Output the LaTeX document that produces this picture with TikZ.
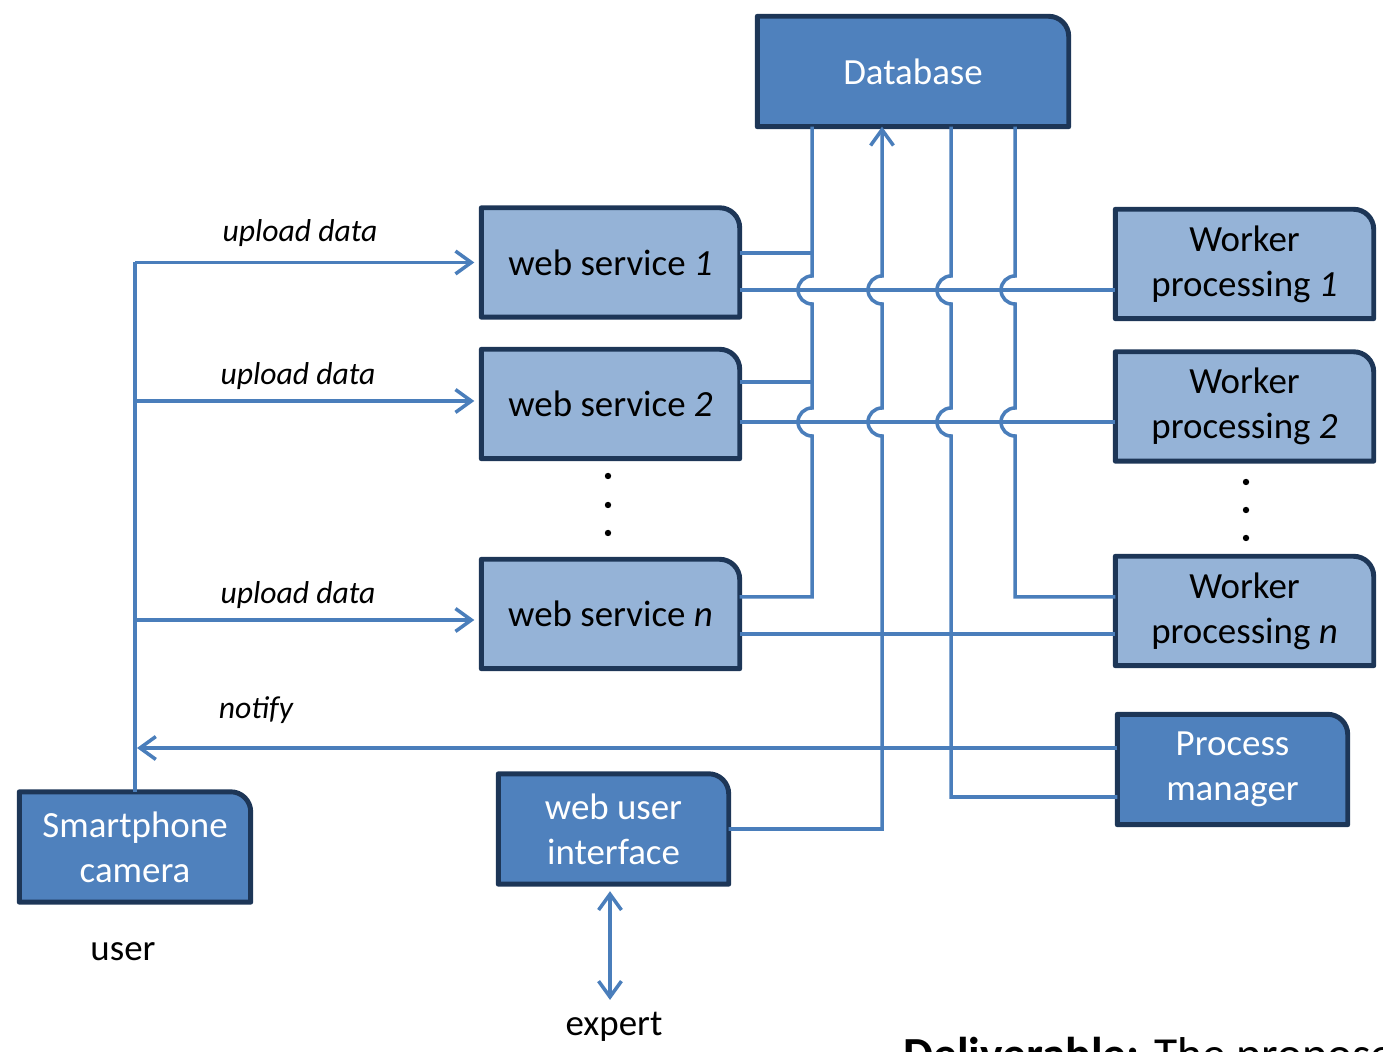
\documentclass[tikz,border=0pt]{standalone}
\usepackage{fontspec}
\setmainfont{Carlito}
\usetikzlibrary{arrows.meta, positioning, backgrounds}

\definecolor{boxlight}{HTML}{95B3D7}
\definecolor{boxdark}{HTML}{4F81BD}
\definecolor{boxedge}{HTML}{1D3657}
\definecolor{wire}{HTML}{4A7EBB}

\tikzset{
  blk/.style={inner sep=0pt, align=center, minimum width=2.57cm, minimum height=1.08cm,
    font=\fontsize{10.5}{12.8}\selectfont},
  lightblk/.style={blk, text=black},
  darkblk/.style={blk, text=white, minimum width=2.29cm, minimum height=1.09cm},
  frame/.style={draw=boxedge, line width=1.4pt, line join=round},
  link/.style={draw=wire, line width=1pt},
  lbl/.style={font=\fontsize{9}{11}\selectfont\itshape},
  plain/.style={font=\fontsize{10.5}{12.8}\selectfont},
}

% bridge over the two worker lines while going down a bus
\newcommand{\hopsdown}[1]{-- ([yshift=1.4mm]#1 |- l1) arc[start angle=90, end angle=270, radius=1.4mm]
  -- ([yshift=1.4mm]#1 |- l2) arc[start angle=90, end angle=270, radius=1.4mm]}

\begin{document}
\begin{tikzpicture}[>={Straight Barb[length=4.5pt,width=6.5pt]}]
  \useasboundingbox (0,0) rectangle (13.83,-10.52);

  % ---- blocks ----
  \node[darkblk, minimum width=3.10cm] (db) at (9.13,-0.715) {Database};
  \node[lightblk] (ws1) at (6.105,-2.625) {web service \textit{1}};
  \node[lightblk] (ws2) at (6.105,-4.04) {web service \textit{2}};
  \node[lightblk] (wsn) at (6.105,-6.14) {web service \textit{n}};
  \node[lightblk] (w1) at (12.445,-2.64) {Worker\\processing \textit{1}};
  \node[lightblk] (w2) at (12.445,-4.065) {Worker\\processing \textit{2}};
  \node[lightblk] (wn) at (12.445,-6.11) {Worker\\processing \textit{n}};
  \node[darkblk] (pm) at (12.325,-7.695) {Process\\manager};
  \node[darkblk, minimum width=2.30cm] (sp) at (1.35,-8.47) {Smartphone\\camera};
  \node[darkblk] (wui) at (6.135,-8.29) {web user\\interface};

  \node[plain] (user) at (1.23,-9.52) {user};
  \node[plain] (expert) at (6.14,-10.27) {expert};

  % block outlines, only the top right corner is rounded
  \begin{scope}[on background layer]
    \foreach \n/\c in {db/boxdark, ws1/boxlight, ws2/boxlight, wsn/boxlight, w1/boxlight,
                       w2/boxlight, wn/boxlight, pm/boxdark, sp/boxdark, wui/boxdark}
      \draw[frame, fill=\c] (\n.south west) -- (\n.north west) -- ([xshift=-2mm]\n.north east)
        arc[start angle=90, end angle=0, radius=2mm] -- (\n.south east) -- cycle;
  \end{scope}

  % ---- levels and bus positions ----
  \coordinate (l1) at ([yshift=-2.75mm]ws1.east);
  \coordinate (l2) at ([yshift=-1.8mm]ws2.east);
  \coordinate (ln) at ([yshift=-2mm]wsn.east);
  \coordinate (s1) at ([yshift=0.95mm]ws1.east);
  \coordinate (s2) at ([yshift=2.2mm]ws2.east);
  \coordinate (s3) at ([yshift=1.7mm]wsn.east);
  \coordinate (wnup) at ([yshift=1.4mm]wn.west);
  \coordinate (pmlow) at ([yshift=-2.75mm]pm.west);
  \coordinate (pmup) at ([yshift=2.15mm]pm.west);
  \coordinate (busA) at (8.12,0);
  \coordinate (busB) at (8.82,0);
  \coordinate (busC) at (9.51,0);
  \coordinate (busD) at (10.15,0);

  % ---- web services to workers ----
  \draw[link] (l1) -- (l1 -| w1.west);
  \draw[link] (l2) -- (l2 -| w2.west);
  \draw[link] (ln) -- (ln -| wn.west);

  % ---- database buses ----
  \draw[link] (busA |- db.south) \hopsdown{busA} -- (busA |- s3) -- (s3);
  \draw[link] (s1) -- (s1 -| busA);
  \draw[link] (s2) -- (s2 -| busA);
  \draw[link, <-] (busB |- db.south) \hopsdown{busB} -- (busB |- wui.east) -- (wui.east);
  \draw[link] (busC |- db.south) \hopsdown{busC} -- (busC |- pmlow) -- (pmlow);
  \draw[link] (busD |- db.south) \hopsdown{busD} -- (busD |- wnup) -- (wnup);

  % ---- user side ----
  \draw[link] (sp.north) -- (sp.north |- ws1.west);
  \draw[link, ->, shorten >=0.7mm] (sp.north |- ws1.west) -- (ws1.west);
  \draw[link, ->, shorten >=0.7mm] ([yshift=0.3mm]sp.north |- ws2.west) -- ([yshift=0.3mm]ws2.west);
  \draw[link, ->, shorten >=0.7mm] ([yshift=-0.6mm]sp.north |- wsn.west) -- ([yshift=-0.6mm]wsn.west);
  \draw[link, ->, shorten >=0.2mm] (pmup) -- (pmup -| sp.north);
  \node[lbl] (up1) at (3.00,-2.33) {upload data};
  \node[lbl] (up2) at (2.98,-3.76) {upload data};
  \node[lbl] (upn) at (2.98,-5.95) {upload data};
  \node[lbl] (ntf) at (2.56,-7.10) {notify};

  % ---- expert ----
  \draw[link, <->] ([shift={(-0.035,-0.07)}]wui.south) -- ([xshift=-0.035cm]wui.south |- expert.north);

  % ---- more services / workers ----
  \foreach \y in {4.76,5.05,5.33} \fill (6.08,-\y) circle (0.032);
  \foreach \y in {4.82,5.10,5.38} \fill (12.46,-\y) circle (0.032);

  \node[anchor=base west, font=\fontsize{13.5}{16}\selectfont] (deliv) at (8.91,-10.70)
    {\textbf{Deliverable:} The proposed};
\end{tikzpicture}
\end{document}
